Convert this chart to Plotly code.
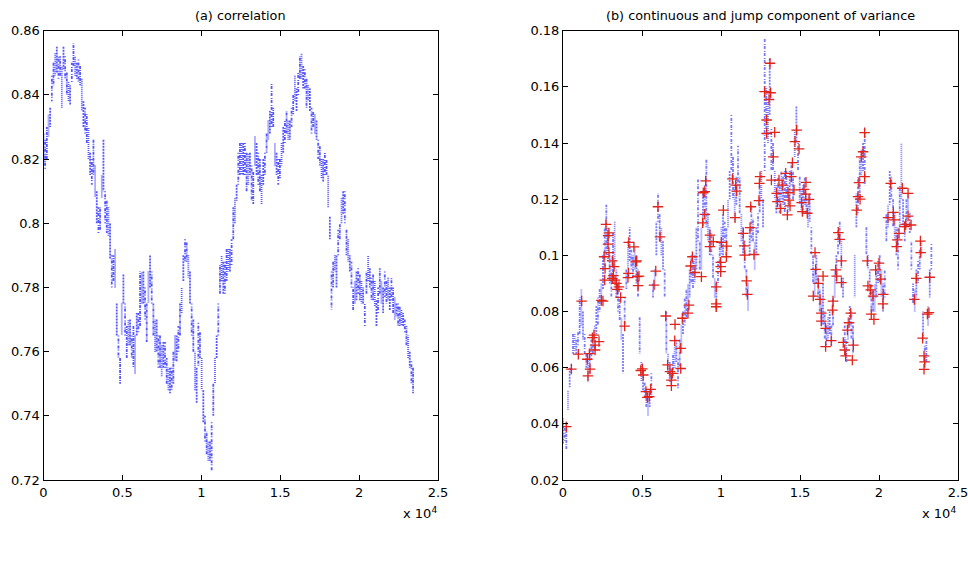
import numpy as np
import plotly.graph_objects as go

# Sampling step of the tabulated envelopes (observation index units)
STEP = 105.5

# (a) correlation: per-window low / high of the estimated correlation path
corr_lo = [
    0.818, 0.817, 0.820, 0.827, 0.830, 0.838, 0.843, 0.846, 0.847, 0.845,
    0.846, 0.836, 0.848, 0.845, 0.840, 0.838, 0.837, 0.844, 0.849, 0.846,
    0.845, 0.844, 0.843, 0.835, 0.830, 0.828, 0.825, 0.820, 0.815, 0.812,
    0.815, 0.808, 0.800, 0.797, 0.798, 0.808, 0.810, 0.800, 0.797, 0.796,
    0.789, 0.780, 0.782, 0.780, 0.765, 0.758, 0.750, 0.765, 0.775, 0.765,
    0.758, 0.762, 0.762, 0.758, 0.755, 0.753, 0.765, 0.766, 0.768, 0.775,
    0.775, 0.770, 0.763, 0.775, 0.780, 0.775, 0.765, 0.760, 0.760, 0.755,
    0.755, 0.752, 0.755, 0.755, 0.750, 0.748, 0.747, 0.748, 0.750, 0.757,
    0.757, 0.760, 0.765, 0.772, 0.782, 0.788, 0.788, 0.783, 0.775, 0.765,
    0.760, 0.748, 0.744, 0.755, 0.758, 0.748, 0.738, 0.732, 0.728, 0.726,
    0.726, 0.723, 0.740, 0.750, 0.758, 0.765, 0.778, 0.782, 0.778, 0.778,
    0.782, 0.785, 0.785, 0.787, 0.795, 0.800, 0.807, 0.812, 0.815, 0.815,
    0.815, 0.815, 0.810, 0.812, 0.815, 0.807, 0.806, 0.818, 0.815, 0.812,
    0.810, 0.806, 0.812, 0.815, 0.822, 0.826, 0.828, 0.830, 0.830, 0.818,
    0.815, 0.812, 0.814, 0.818, 0.822, 0.825, 0.828, 0.826, 0.826, 0.830,
    0.834, 0.838, 0.835, 0.840, 0.845, 0.845, 0.842, 0.842, 0.836, 0.838,
    0.835, 0.828, 0.830, 0.828, 0.826, 0.820, 0.818, 0.814, 0.813, 0.815,
    0.815, 0.805, 0.795, 0.773, 0.780, 0.785, 0.780, 0.790, 0.795, 0.800,
    0.803, 0.800, 0.790, 0.788, 0.785, 0.780, 0.773, 0.775, 0.776, 0.778,
    0.776, 0.775, 0.775, 0.768, 0.778, 0.782, 0.780, 0.776, 0.776, 0.774,
    0.768, 0.772, 0.778, 0.775, 0.772, 0.777, 0.775, 0.776, 0.773, 0.776,
    0.772, 0.770, 0.771, 0.768, 0.768, 0.768, 0.768, 0.766, 0.762, 0.758,
    0.755, 0.750, 0.747,
]
corr_hi = [
    0.828, 0.826, 0.830, 0.834, 0.836, 0.846, 0.850, 0.853, 0.855, 0.852,
    0.852, 0.849, 0.855, 0.852, 0.847, 0.844, 0.843, 0.850, 0.856, 0.852,
    0.850, 0.851, 0.849, 0.845, 0.838, 0.836, 0.834, 0.830, 0.822, 0.820,
    0.826, 0.818, 0.810, 0.805, 0.805, 0.815, 0.826, 0.810, 0.807, 0.805,
    0.800, 0.790, 0.790, 0.792, 0.775, 0.765, 0.758, 0.775, 0.784, 0.775,
    0.768, 0.770, 0.770, 0.765, 0.768, 0.765, 0.772, 0.772, 0.785, 0.785,
    0.785, 0.780, 0.775, 0.785, 0.790, 0.785, 0.775, 0.770, 0.770, 0.765,
    0.765, 0.762, 0.763, 0.763, 0.758, 0.755, 0.755, 0.755, 0.760, 0.765,
    0.765, 0.768, 0.775, 0.780, 0.790, 0.795, 0.794, 0.790, 0.785, 0.775,
    0.770, 0.760, 0.755, 0.769, 0.766, 0.758, 0.748, 0.740, 0.735, 0.732,
    0.732, 0.738, 0.750, 0.758, 0.765, 0.775, 0.787, 0.790, 0.788, 0.788,
    0.792, 0.792, 0.792, 0.795, 0.805, 0.808, 0.812, 0.822, 0.825, 0.825,
    0.825, 0.825, 0.822, 0.822, 0.822, 0.818, 0.816, 0.827, 0.825, 0.822,
    0.820, 0.815, 0.820, 0.822, 0.828, 0.832, 0.835, 0.844, 0.836, 0.825,
    0.822, 0.820, 0.820, 0.825, 0.830, 0.832, 0.835, 0.832, 0.832, 0.836,
    0.840, 0.846, 0.842, 0.847, 0.852, 0.853, 0.849, 0.848, 0.845, 0.843,
    0.842, 0.836, 0.835, 0.834, 0.832, 0.826, 0.824, 0.820, 0.820, 0.822,
    0.820, 0.815, 0.802, 0.785, 0.788, 0.790, 0.790, 0.798, 0.800, 0.808,
    0.810, 0.810, 0.798, 0.795, 0.790, 0.788, 0.780, 0.782, 0.785, 0.786,
    0.784, 0.782, 0.780, 0.775, 0.785, 0.790, 0.786, 0.783, 0.784, 0.782,
    0.776, 0.780, 0.786, 0.782, 0.780, 0.785, 0.782, 0.783, 0.780, 0.783,
    0.780, 0.777, 0.775, 0.775, 0.774, 0.773, 0.772, 0.770, 0.768, 0.765,
    0.760, 0.757, 0.755,
]

# (b) continuous component of variance: per-window low / high
var_lo = [
    0.033, 0.034, 0.031, 0.045, 0.053, 0.058, 0.065, 0.066, 0.065, 0.068,
    0.072, 0.075, 0.070, 0.065, 0.060, 0.055, 0.058, 0.063, 0.065, 0.066,
    0.072, 0.075, 0.080, 0.082, 0.088, 0.095, 0.100, 0.098, 0.090, 0.085,
    0.090, 0.095, 0.085, 0.080, 0.077, 0.070, 0.058, 0.075, 0.088, 0.095,
    0.098, 0.095, 0.092, 0.095, 0.090, 0.085, 0.065, 0.055, 0.052, 0.050,
    0.046, 0.043, 0.046, 0.050, 0.085, 0.088, 0.100, 0.112, 0.105, 0.100,
    0.095, 0.085, 0.065, 0.058, 0.055, 0.055, 0.057, 0.060, 0.062, 0.052,
    0.060, 0.065, 0.072, 0.075, 0.078, 0.080, 0.085, 0.090, 0.088, 0.090,
    0.095, 0.105, 0.095, 0.095, 0.110, 0.115, 0.110, 0.105, 0.100, 0.100,
    0.092, 0.085, 0.080, 0.090, 0.095, 0.100, 0.100, 0.105, 0.100, 0.110,
    0.120, 0.130, 0.120, 0.112, 0.118, 0.125, 0.115, 0.105, 0.100, 0.095,
    0.085, 0.080, 0.100, 0.105, 0.105, 0.095, 0.100, 0.108, 0.115, 0.120,
    0.110, 0.130, 0.145, 0.140, 0.150, 0.130, 0.130, 0.120, 0.115, 0.118,
    0.115, 0.120, 0.118, 0.115, 0.120, 0.115, 0.120, 0.125, 0.120, 0.135,
    0.140, 0.130, 0.118, 0.115, 0.115, 0.118, 0.115, 0.110, 0.112, 0.100,
    0.090, 0.085, 0.090, 0.085, 0.080, 0.075, 0.075, 0.070, 0.068, 0.070,
    0.072, 0.068, 0.075, 0.085, 0.090, 0.100, 0.105, 0.095, 0.085, 0.068,
    0.062, 0.070, 0.075, 0.070, 0.065, 0.085, 0.110, 0.115, 0.120, 0.128,
    0.130, 0.125, 0.100, 0.095, 0.085, 0.080, 0.080, 0.080, 0.085, 0.090,
    0.090, 0.085, 0.080, 0.085, 0.105, 0.110, 0.118, 0.120, 0.110, 0.105,
    0.100, 0.095, 0.110, 0.120, 0.110, 0.105, 0.110, 0.115, 0.108, 0.095,
    0.083, 0.080, 0.085, 0.090, 0.095, 0.100, 0.070, 0.060, 0.062, 0.075,
    0.085, 0.095,
]
var_hi = [
    0.042, 0.040, 0.040, 0.052, 0.060, 0.061, 0.072, 0.072, 0.070, 0.073,
    0.085, 0.088, 0.080, 0.072, 0.065, 0.063, 0.066, 0.070, 0.072, 0.075,
    0.082, 0.085, 0.088, 0.090, 0.100, 0.110, 0.118, 0.110, 0.100, 0.095,
    0.108, 0.112, 0.095, 0.090, 0.085, 0.078, 0.072, 0.085, 0.095, 0.105,
    0.110, 0.102, 0.100, 0.103, 0.100, 0.095, 0.078, 0.062, 0.060, 0.055,
    0.052, 0.050, 0.052, 0.058, 0.090, 0.095, 0.112, 0.122, 0.115, 0.110,
    0.105, 0.095, 0.080, 0.065, 0.062, 0.060, 0.065, 0.068, 0.070, 0.063,
    0.070, 0.075, 0.080, 0.085, 0.088, 0.090, 0.095, 0.100, 0.098, 0.100,
    0.110, 0.127, 0.105, 0.110, 0.123, 0.125, 0.134, 0.115, 0.110, 0.108,
    0.100, 0.092, 0.090, 0.098, 0.105, 0.110, 0.115, 0.112, 0.110, 0.120,
    0.130, 0.150, 0.135, 0.125, 0.128, 0.139, 0.128, 0.115, 0.110, 0.105,
    0.095, 0.090, 0.110, 0.118, 0.113, 0.105, 0.110, 0.115, 0.125, 0.130,
    0.120, 0.177, 0.160, 0.155, 0.170, 0.145, 0.140, 0.130, 0.125, 0.128,
    0.125, 0.130, 0.128, 0.130, 0.130, 0.125, 0.130, 0.133, 0.130, 0.145,
    0.153, 0.140, 0.128, 0.123, 0.125, 0.128, 0.122, 0.120, 0.122, 0.110,
    0.100, 0.095, 0.100, 0.093, 0.088, 0.085, 0.090, 0.080, 0.075, 0.078,
    0.080, 0.075, 0.085, 0.095, 0.100, 0.110, 0.112, 0.105, 0.092, 0.075,
    0.070, 0.078, 0.082, 0.080, 0.075, 0.100, 0.122, 0.128, 0.135, 0.138,
    0.140, 0.145, 0.110, 0.100, 0.095, 0.090, 0.088, 0.090, 0.095, 0.098,
    0.100, 0.095, 0.090, 0.095, 0.115, 0.118, 0.130, 0.128, 0.120, 0.115,
    0.110, 0.110, 0.125, 0.140, 0.120, 0.112, 0.120, 0.122, 0.115, 0.105,
    0.090, 0.088, 0.095, 0.098, 0.102, 0.105, 0.080, 0.068, 0.070, 0.082,
    0.095, 0.104,
]

# (b) jump component: observation index and value of detected jumps
jump_t = [
    210, 530, 970, 1180, 1540, 1580, 1670, 1710, 1860, 1960,
    2030, 2030, 2280, 2430, 2530, 2600, 2660, 2640, 2720, 2850,
    2910, 2850, 2910, 3120, 3120, 3190, 3230, 3290, 3380, 3440,
    3540, 3650, 3900, 4110, 4140, 4160, 4490, 4600, 4660, 4700,
    4750, 4810, 4920, 5020, 5080, 5250, 5340, 5460, 5550, 5760,
    5870, 6010, 6140, 6500, 6620, 6770, 6860, 6860, 6920, 7090,
    7070, 7450, 7450, 7550, 7910, 7970, 8080, 8190, 8350, 8760,
    8840, 8880, 8970, 9030, 8970, 9300, 9300, 9510, 9700, 9700,
    9700, 9980, 9980, 9980, 10020, 10150, 10360, 10340, 10720, 10890,
    10930, 10990, 11410, 11460, 11500, 11620, 11670, 11880, 11840, 12090,
    12400, 12430, 12470, 12760, 12890, 12890, 13040, 13100, 13140, 13190,
    13310, 13400, 13520, 13570, 13670, 13780, 13880, 14090, 14200, 14240,
    14300, 14370, 14450, 14520, 14620, 14680, 14790, 14940, 15100, 15150,
    15250, 15380, 15360, 15460, 15570, 15840, 15950, 15990, 16160, 16270,
    16350, 16350, 16460, 16620, 16620, 16980, 17050, 17090, 17260, 17320,
    17430, 17510, 17620, 17620, 17740, 17830, 17890, 18000, 18100, 18210,
    18310, 18380, 18590, 18670, 18730, 18800, 18880, 18990, 19090, 19090,
    19260, 19300, 19470, 19510, 19620, 19680, 19790, 20000, 20110, 20250,
    20270, 20570, 20740, 20910, 20950, 21120, 21160, 21270, 21480, 21620,
    21690, 21840, 21840, 22030, 22240, 22360, 22620, 22640, 22760, 22850,
    22890, 22850, 23060, 23160, 23210,
]
jump_v = [
    0.0390, 0.0595, 0.0648, 0.0837, 0.0630, 0.0571, 0.0650, 0.0595, 0.0707, 0.0716,
    0.0663, 0.0680, 0.0693, 0.0840, 0.0837, 0.0995, 0.0953, 0.0912, 0.1110, 0.1070,
    0.1080, 0.1040, 0.1010, 0.0980, 0.0918, 0.0928, 0.0960, 0.0912, 0.0900, 0.0879,
    0.0888, 0.0850, 0.0748, 0.0921, 0.0936, 0.1046, 0.1030, 0.0977, 0.0980, 0.0924,
    0.0892, 0.0926, 0.0590, 0.0596, 0.0574, 0.0515, 0.0494, 0.0497, 0.0523, 0.0894,
    0.0944, 0.1173, 0.1066, 0.0784, 0.0610, 0.0586, 0.0556, 0.0536, 0.0580, 0.0754,
    0.0696, 0.0669, 0.0597, 0.0776, 0.0794, 0.0823, 0.0962, 0.0995, 0.0939, 0.0924,
    0.1116, 0.1223, 0.1227, 0.1265, 0.1146, 0.1072, 0.1031, 0.1049, 0.0888, 0.0827,
    0.0817, 0.0960, 0.0975, 0.0942, 0.1046, 0.1161, 0.1033, 0.0995, 0.1272, 0.1134,
    0.1250, 0.1229, 0.1078, 0.1034, 0.1001, 0.0909, 0.0861, 0.1173, 0.1099, 0.1003,
    0.1195, 0.1256, 0.1280, 0.1583, 0.1482, 0.1434, 0.1555, 0.1684, 0.1579, 0.1268,
    0.1351, 0.1438, 0.1221, 0.1191, 0.1268, 0.1167, 0.1250, 0.1292, 0.1144, 0.1223,
    0.1197, 0.1176, 0.1280, 0.1330, 0.1233, 0.1405, 0.1446, 0.1379, 0.1188, 0.1156,
    0.1235, 0.1260, 0.1218, 0.1150, 0.1199, 0.0855, 0.1010, 0.0950, 0.0900, 0.0843,
    0.0794, 0.0766, 0.0926, 0.0740, 0.0675, 0.0696, 0.0805, 0.0837, 0.0948, 0.0926,
    0.1081, 0.1057, 0.0980, 0.0903, 0.0690, 0.0663, 0.0642, 0.0734, 0.0760, 0.0794,
    0.0627, 0.0680, 0.1161, 0.1209, 0.1259, 0.1200, 0.1351, 0.1369, 0.1437, 0.1280,
    0.0980, 0.0891, 0.0877, 0.0791, 0.0855, 0.0772, 0.0948, 0.0972, 0.0915, 0.0827,
    0.0861, 0.1134, 0.1256, 0.1153, 0.1126, 0.1031, 0.1055, 0.1078, 0.1239, 0.1102,
    0.1110, 0.1221, 0.1140, 0.1108, 0.0843, 0.0918, 0.1051, 0.1010, 0.0705, 0.0642,
    0.0621, 0.0594, 0.0791, 0.0796, 0.0922,
]

x_tick_vals = [0, 5000, 10000, 15000, 20000, 25000]
x_tick_text = ["0", "0.5", "1", "1.5", "2", "2.5"]
corr_ticks = [0.72, 0.74, 0.76, 0.78, 0.80, 0.82, 0.84, 0.86]
corr_tick_text = ["0.72", "0.74", "0.76", "0.78", "0.8", "0.82", "0.84", "0.86"]
var_ticks = [0.02, 0.04, 0.06, 0.08, 0.10, 0.12, 0.14, 0.16, 0.18]
var_tick_text = ["0.02", "0.04", "0.06", "0.08", "0.1", "0.12", "0.14", "0.16", "0.18"]

assert len(corr_lo) == len(corr_hi)
assert len(var_lo) == len(var_hi)
assert len(jump_t) == len(jump_v)

# Stroke patterns cycled across neighbouring windows so the dots don't line up
DASHES = ["2px,1px", "1px,2px,3px,1px", "3px,1px,1px,1px", "1px,1px"]


def envelope_segments(lo, hi, phase, n_phase):
    """Vertical strokes low->high (alternating direction) for every
    n_phase-th window starting at `phase`, split by None."""
    t = np.arange(len(lo)) * STEP
    xs, ys = [], []
    for i in range(phase, len(lo), n_phase):
        a, b = (lo[i], hi[i]) if (i // n_phase) % 2 == 0 else (hi[i], lo[i])
        xs += [t[i], t[i], None]
        ys += [a, b, None]
    return xs, ys


def add_band(fig, lo, hi, xaxis, yaxis, color):
    for k, dash in enumerate(DASHES):
        xs, ys = envelope_segments(lo, hi, k, len(DASHES))
        fig.add_trace(go.Scatter(
            x=xs, y=ys, mode="lines", xaxis=xaxis, yaxis=yaxis,
            line=dict(color=color, width=1.8, dash=dash),
            hoverinfo="skip",
        ))


W, H = 968, 569
FONT = "DejaVu Sans"

fig = go.Figure()
add_band(fig, corr_lo, corr_hi, "x", "y", "rgba(0,0,255,0.66)")
add_band(fig, var_lo, var_hi, "x2", "y2", "rgba(0,0,255,0.52)")

fig.add_trace(go.Scatter(
    x=jump_t, y=jump_v, mode="markers", xaxis="x2", yaxis="y2",
    marker=dict(symbol="cross-thin", size=7.5,
                line=dict(color="rgb(225,35,25)", width=1.3)),
))

axis_common = dict(
    showline=True, linecolor="black", linewidth=1, mirror="ticks",
    ticks="inside", ticklen=5, tickcolor="black", tickwidth=1,
    showgrid=False, zeroline=False, automargin=False,
    ticklabeloverflow="allow",
    tickfont=dict(family=FONT, size=13, color="black"),
)

y_dom = [89 / H, 538.3 / H]
fig.update_layout(
    width=W, height=H, autosize=False,
    margin=dict(l=0, r=0, t=0, b=0, pad=0),
    paper_bgcolor="white", plot_bgcolor="white",
    showlegend=False,
    xaxis=dict(domain=[43.5 / W, 438 / W], range=[0, 25000], anchor="y",
               tickvals=x_tick_vals, ticktext=x_tick_text, **axis_common),
    yaxis=dict(domain=y_dom, range=[0.72, 0.86], anchor="x",
               tickvals=corr_ticks, ticktext=corr_tick_text, **axis_common),
    xaxis2=dict(domain=[563 / W, 958 / W], range=[0, 25000], anchor="y2",
                tickvals=x_tick_vals, ticktext=x_tick_text, **axis_common),
    yaxis2=dict(domain=y_dom, range=[0.02, 0.18], anchor="x2",
                tickvals=var_ticks, ticktext=var_tick_text, **axis_common),
)

title_font = dict(family=FONT, size=12.8, color="black")
label_font = dict(family=FONT, size=13, color="black")
annotations = [
    dict(text="(a) correlation", x=240.5 / W, y=1 - 15.7 / H,
         xref="paper", yref="paper", showarrow=False, font=title_font,
         xanchor="center", yanchor="middle"),
    dict(text="(b) continuous and jump component of variance",
         x=760.5 / W, y=1 - 15.7 / H,
         xref="paper", yref="paper", showarrow=False, font=title_font,
         xanchor="center", yanchor="middle"),
    dict(text="x 10<sup>4</sup>", x=439 / W, y=1 - 513 / H,
         xref="paper", yref="paper", showarrow=False, font=label_font,
         xanchor="right", yanchor="middle"),
    dict(text="x 10<sup>4</sup>", x=958 / W, y=1 - 513 / H,
         xref="paper", yref="paper", showarrow=False, font=label_font,
         xanchor="right", yanchor="middle"),
]
fig.update_layout(annotations=annotations)

fig.write_html("out.html")
